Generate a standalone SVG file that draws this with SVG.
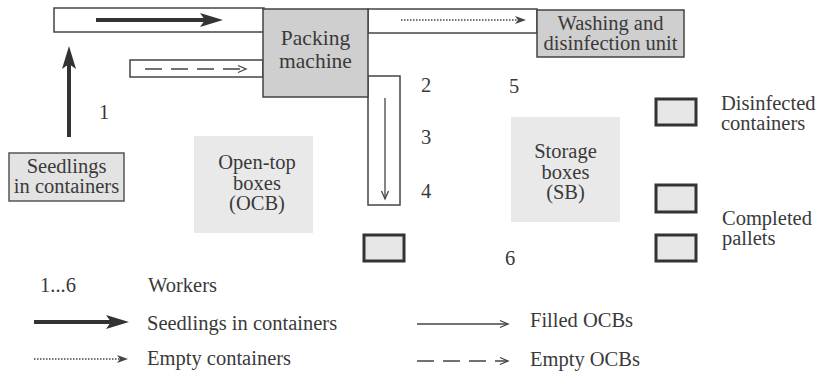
<svg xmlns="http://www.w3.org/2000/svg" width="816" height="374" viewBox="0 0 816 374">
<style>
text{font-family:'Liberation Serif','Times New Roman',serif;font-size:20.5px;fill:#3a3a3a}
.c{text-anchor:middle}
.big{font-size:21.5px}
.conv{fill:#fff;stroke:#444;stroke-width:1.5}
.mach{fill:#cfcfcf;stroke:#444;stroke-width:1.5}
.soft{fill:#e3e3e3;stroke:#555;stroke-width:1.5}
.area{fill:#e9e9e9;stroke:none}
.pal{fill:#e6e6e6;stroke:#333;stroke-width:3}
.thick{stroke:#333;stroke-width:4;fill:none;marker-end:url(#mThick)}
.thin{stroke:#444;stroke-width:1.3;fill:none;marker-end:url(#mThin)}
.dot{stroke:#444;stroke-width:1.5;stroke-dasharray:1.5 1.5;fill:none;marker-end:url(#mDot)}
.dash{stroke:#444;stroke-width:1.5;stroke-dasharray:17 9;fill:none;marker-end:url(#mThin)}
</style>
<defs>
<marker id="mThick" markerUnits="userSpaceOnUse" markerWidth="24" markerHeight="16" refX="12" refY="7" orient="auto" overflow="visible">
<path d="M0,0 L23,7 L0,14 L5,7 Z" fill="#333"/>
</marker>
<marker id="mThin" markerUnits="userSpaceOnUse" markerWidth="10" markerHeight="8" refX="8" refY="4" orient="auto" overflow="visible">
<path d="M0,0.5 L8,4 L0,7.5" fill="none" stroke="#444" stroke-width="1.3"/>
</marker>
<marker id="mDot" markerUnits="userSpaceOnUse" markerWidth="12" markerHeight="8" refX="3" refY="4" orient="auto" overflow="visible">
<path d="M0,0 L11,4 L0,8 L3,4 Z" fill="#444"/>
</marker>
</defs>

<g id="conveyors">
<rect class="conv" x="54" y="8" width="210" height="24"/>
<rect class="conv" x="368" y="9" width="169" height="24"/>
<rect class="conv" x="130" y="60" width="133" height="17"/>
<rect class="conv" x="368" y="76" width="32" height="129"/>
</g>

<g id="packing-machine">
<rect class="mach" x="263" y="9" width="105" height="88"/>
<text class="c big" x="315.5" y="45">Packing</text>
<text class="c big" x="315.5" y="68">machine</text>
</g>

<g id="washing-unit">
<rect class="mach" x="537" y="10" width="147" height="47"/>
<text class="c" x="610.5" y="30">Washing and</text>
<text class="c" x="610.5" y="50">disinfection unit</text>
</g>

<g id="seedlings">
<rect class="soft" x="9" y="153" width="115" height="48"/>
<text class="c" x="66.5" y="173">Seedlings</text>
<text class="c" x="66.5" y="193">in containers</text>
</g>

<g id="ocb">
<rect class="area" x="194" y="136" width="119" height="97"/>
<text class="c" x="257" y="169">Open-top</text>
<text class="c" x="257" y="190">boxes</text>
<text class="c" x="257" y="210">(OCB)</text>
</g>

<g id="sb">
<rect class="area" x="511" y="117" width="109" height="105"/>
<text class="c" x="565.5" y="158">Storage</text>
<text class="c" x="565.5" y="179">boxes</text>
<text class="c" x="565.5" y="199">(SB)</text>
</g>

<g id="pallets">
<rect class="pal" x="364" y="235" width="40" height="26"/>
<rect class="pal" x="656" y="99" width="40" height="26"/>
<rect class="pal" x="656" y="185" width="40" height="27"/>
<rect class="pal" x="656" y="235" width="40" height="26"/>
<text x="721" y="110">Disinfected</text>
<text x="721" y="130">containers</text>
<text x="722" y="225">Completed</text>
<text x="722" y="245">pallets</text>
</g>

<g id="workers">
<text x="99" y="119">1</text>
<text x="421" y="92">2</text>
<text x="421" y="144">3</text>
<text x="421" y="198">4</text>
<text x="509" y="93">5</text>
<text x="505" y="265">6</text>
</g>

<g id="connectors">
<line class="thick" x1="96" y1="20" x2="212" y2="20"/>
<line class="thick" x1="69" y1="137" x2="69" y2="57"/>
<line class="dot" x1="401" y1="20" x2="518" y2="20"/>
<line class="dash" x1="145" y1="69" x2="246" y2="69"/>
<line class="thin" x1="385" y1="98" x2="385" y2="199"/>
</g>

<g id="legend">
<text x="40" y="292">1...6</text>
<text x="148" y="292">Workers</text>
<line class="thick" x1="34" y1="322" x2="118" y2="322"/>
<text x="147" y="330">Seedlings in containers</text>
<line class="dot" x1="34" y1="359" x2="120" y2="359"/>
<text x="147" y="365">Empty containers</text>
<line class="thin" x1="417" y1="324" x2="508" y2="324"/>
<text x="530" y="327">Filled OCBs</text>
<line class="dash" x1="417" y1="361" x2="508" y2="361"/>
<text x="530" y="366">Empty OCBs</text>
</g>
</svg>
